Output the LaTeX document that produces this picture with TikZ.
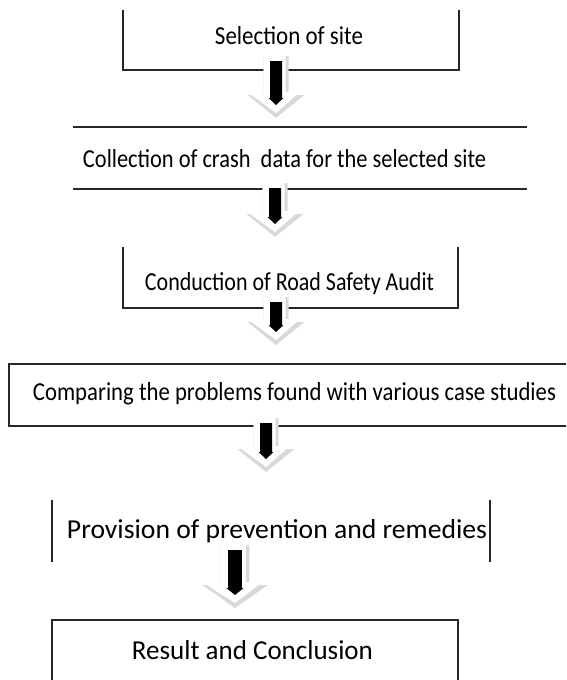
\documentclass[tikz,border=0pt]{standalone}
\usepackage{fontspec}
\setmainfont{Carlito}
\usepackage{graphicx}
\tikzset{
  boxline/.style={line width=1.3pt, draw=black!85},
  lbl/.style={anchor=base, inner sep=0pt, text=black, font=\fontsize{22}{26}\selectfont},
  pics/blockarrow/.style={code={
    \fill[gray!30] (-12.5,0) -- (12.5,0) -- (12.5,#1-23) -- (28.5,#1-23) -- (0,#1) -- (-28.5,#1-23) -- (-12.5,#1-23) -- cycle;
    \fill[white] (-12.5,0) -- (9.5,0) -- (9.5,#1-26) -- (24,#1-26) -- (0,#1-5) -- (-26,#1-24) -- (-12.5,#1-24) -- cycle;
    \fill[black] (-6,5) -- (6,5) -- (6,#1-20) -- (7.5,#1-20) -- (0,#1-13) -- (-7.5,#1-20) -- (-6,#1-20) -- cycle;
  }}
}
\begin{document}
\begin{tikzpicture}[x=1pt,y=-1pt]
\path[use as bounding box] (0,0) rectangle (566,680);
\clip (0,0) rectangle (566,680);
% box 1
\coordinate (b1a) at (123,10); \coordinate (b1b) at (123,70);
\coordinate (b1c) at (459,70); \coordinate (b1d) at (459,10);
\draw[boxline] (b1a) -- (b1b) -- (b1c) -- (b1d);
\node[lbl] (t1) at (289,44) {\resizebox{148pt}{18pt}{Selection of site}};
% box 2
\coordinate (b2a) at (73,127); \coordinate (b2b) at (527,127);
\coordinate (b2c) at (73,189); \coordinate (b2d) at (527,189);
\draw[boxline] (b2a) -- (b2b);
\draw[boxline] (b2c) -- (b2d);
\node[lbl] (t2) at (284.5,167) {\resizebox{403pt}{18pt}{Collection of crash~ data for the selected site}};
% box 3
\coordinate (b3a) at (123,247); \coordinate (b3b) at (123,308);
\coordinate (b3c) at (458,308); \coordinate (b3d) at (458,247);
\draw[boxline] (b3a) -- (b3b) -- (b3c) -- (b3d);
\node[lbl] (t3) at (289.5,290) {\resizebox{289pt}{18pt}{Conduction of Road Safety Audit}};
% box 4
\coordinate (b4a) at (9,364); \coordinate (b4b) at (600,426);
\draw[boxline] (b4a) rectangle (b4b);
\node[lbl] (t4) at (294.5,400) {\resizebox{523pt}{18pt}{Comparing the problems found with various case studies}};
% box 5
\coordinate (b5a) at (52,500); \coordinate (b5b) at (52,562);
\coordinate (b5c) at (490,500); \coordinate (b5d) at (490,562);
\draw[boxline] (b5a) -- (b5b);
\draw[boxline] (b5c) -- (b5d);
\node[lbl] (t5) at (277,538) {\resizebox{420pt}{19pt}{Provision of prevention and remedies}};
% box 6
\coordinate (b6a) at (52,620); \coordinate (b6b) at (458,700);
\draw[boxline] (b6a) rectangle (b6b);
\node[lbl] (t6) at (252.5,659) {\resizebox{241pt}{19pt}{Result and Conclusion}};
% arrows
\coordinate (a1) at (276,56);
\coordinate (a2) at (275,183);
\coordinate (a3) at (276,297);
\coordinate (a4) at (266,418);
\coordinate (a5) at (235,545);
\pic at (a1) {blockarrow=62};
\pic at (a2) {blockarrow=54};
\pic at (a3) {blockarrow=48};
\pic at (a4) {blockarrow=54};
\pic[xscale=1.15] at (a5) {blockarrow=63};
\end{tikzpicture}
\end{document}
